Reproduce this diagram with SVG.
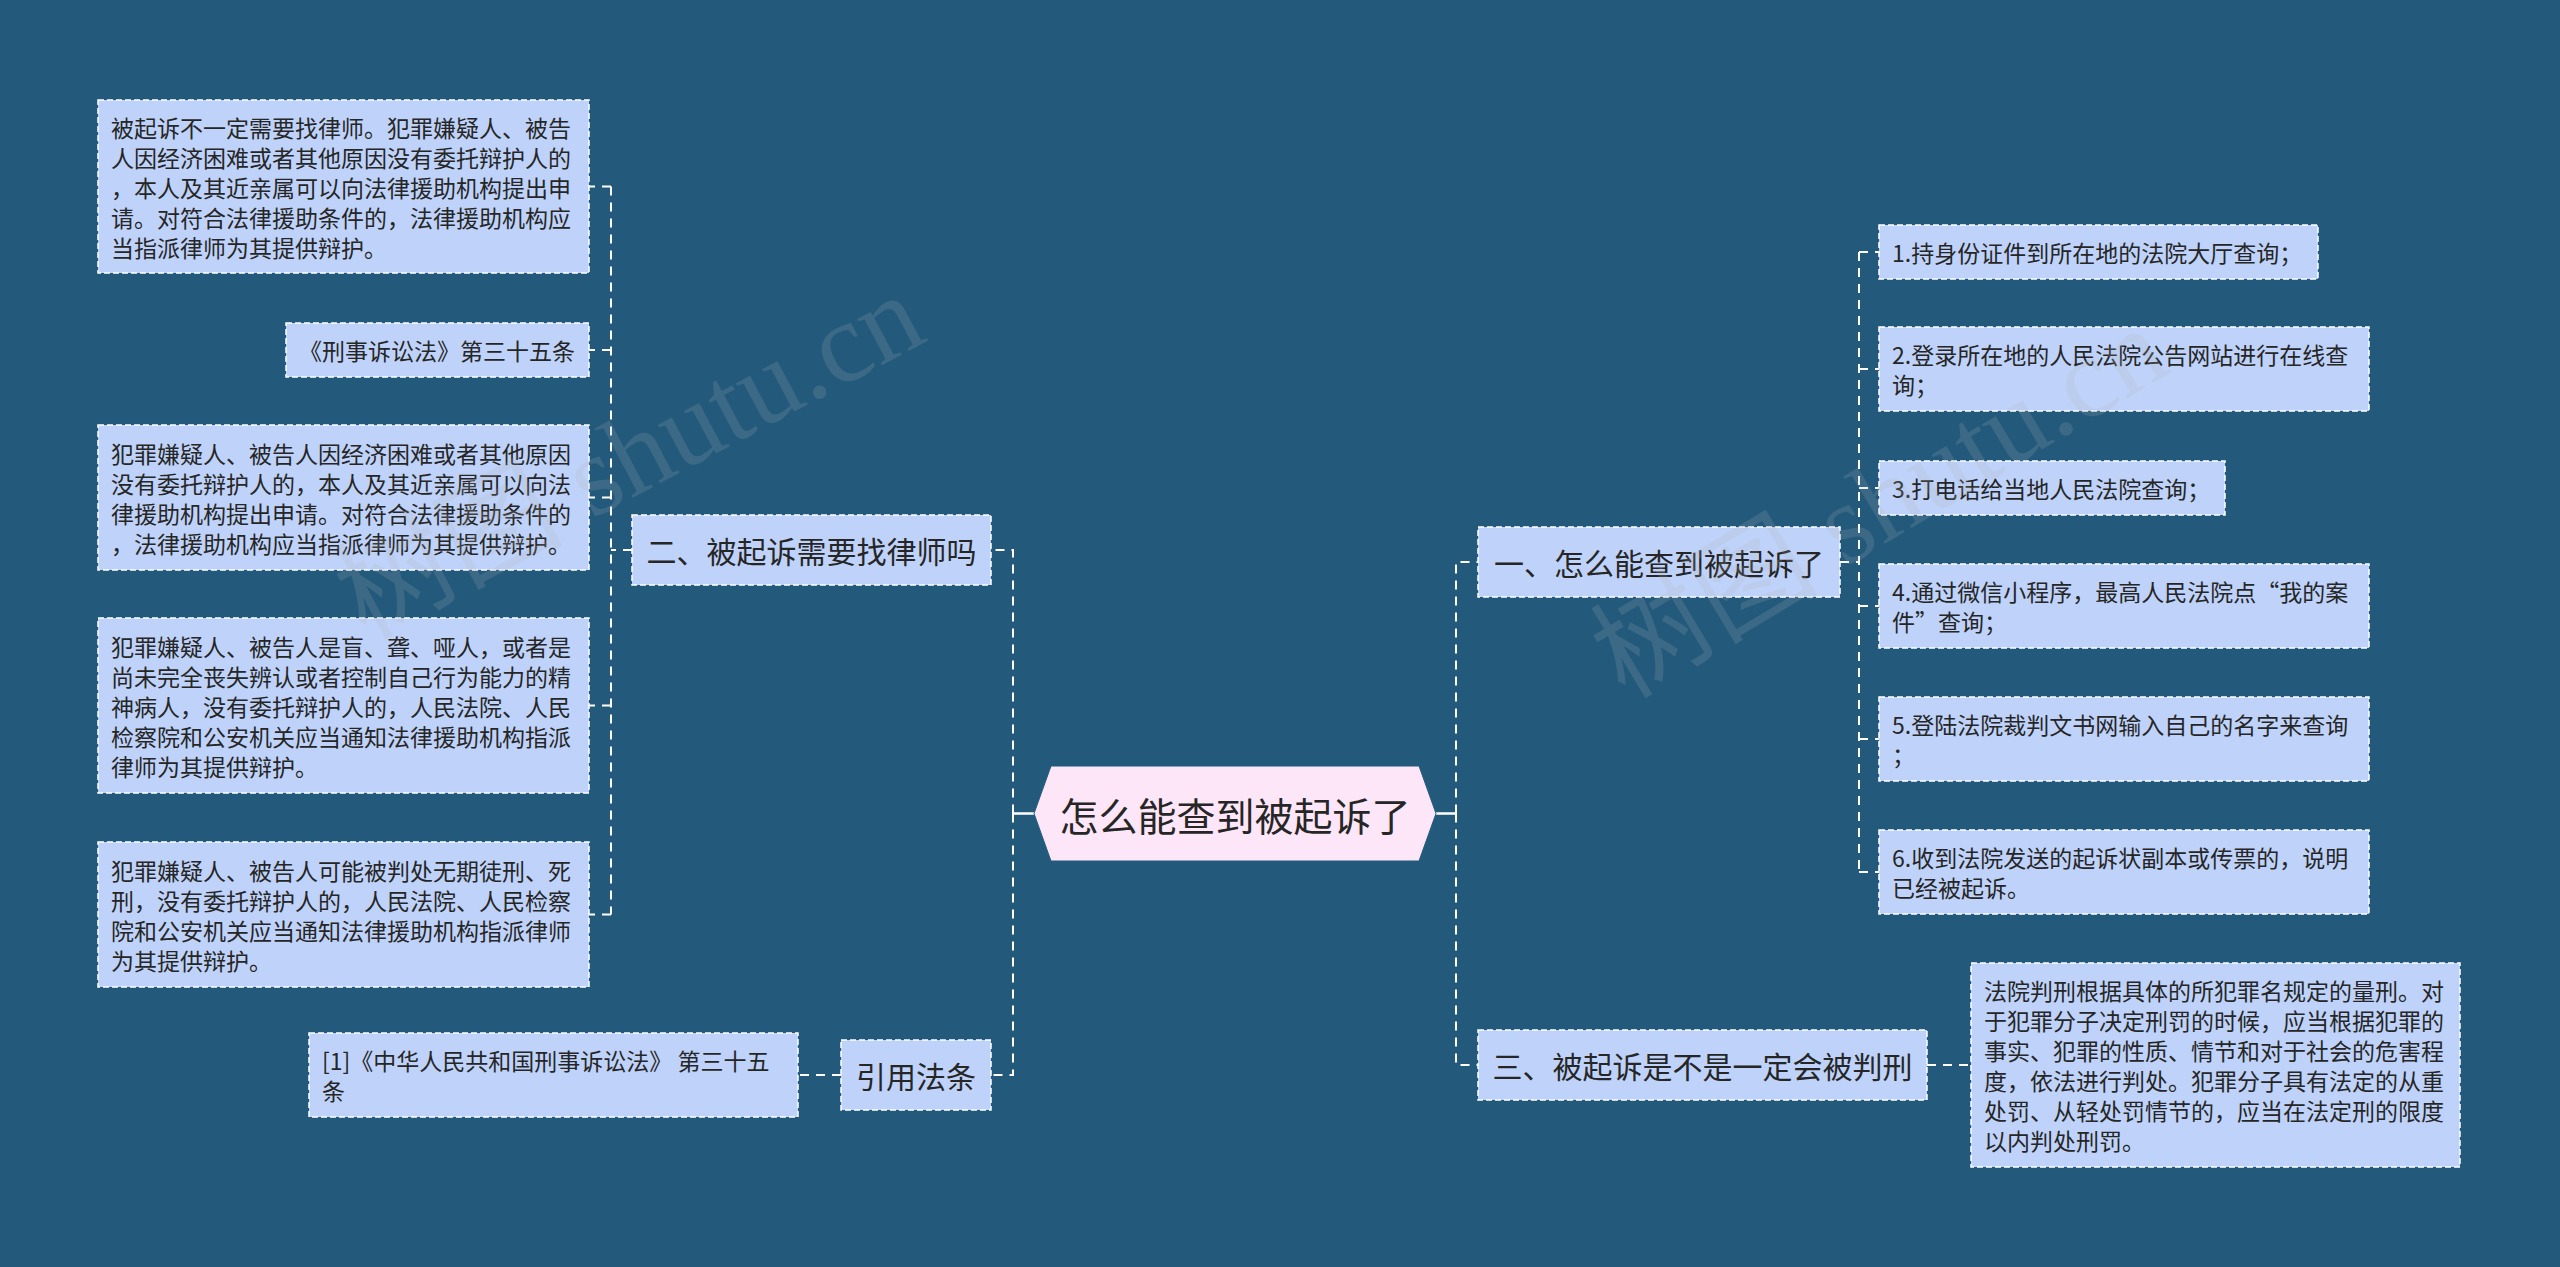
<svg xmlns="http://www.w3.org/2000/svg" width="2560" height="1267" viewBox="0 0 2560 1267">
<style>
.bg{fill:#235a7c}
.box{fill:#bfd3fa;stroke:#ffffff;stroke-width:1.5;stroke-dasharray:6 3}
.hex{fill:#fde6f7;stroke:#235a7c;stroke-width:1}
.t{font-family:"Noto Sans CJK SC","Noto Sans",sans-serif;fill:#262626;dominant-baseline:central}
.leaf{font-size:23px}
.branch{font-size:30px;text-anchor:middle}
.root{font-size:39px;text-anchor:middle}
.c{fill:none;stroke:#ffffff;stroke-width:2;stroke-dasharray:9 7}
.cs{fill:none;stroke:#ffffff;stroke-width:2.5}
.wm{font-family:"Liberation Serif","Noto Sans CJK SC",serif;font-size:114px;fill:#b0b0b0;opacity:0.18}
</style>
<rect class="bg" x="0" y="0" width="2560" height="1267"/>
<g id="connectors">
<path class="cs" d="M1034,813.5 H1013"/>
<path class="c" d="M1013,813.5 V550 H991 M1013,813.5 V1075 H991"/>
<path class="c" d="M632,550 H611 M611,186.5 V914.5 M611,186.5 H589 M611,350 H589 M611,497.5 H589 M611,705.5 H589 M611,914.5 H589"/>
<path class="c" d="M841,1075 H798"/>
<path class="cs" d="M1436,813.5 H1456"/>
<path class="c" d="M1456,813.5 V562 H1478 M1456,813.5 V1065 H1478"/>
<path class="c" d="M1840,562 H1859 M1859,252 V872 M1859,252 H1879 M1859,369 H1879 M1859,488 H1879 M1859,606 H1879 M1859,739 H1879 M1859,872 H1879"/>
<path class="c" d="M1927,1065 H1971"/>
</g>
<g id="root">
<polygon class="hex" points="1034,813.5 1051,766 1419,766 1436,813.5 1419,861 1051,861"/>
<text class="t root" x="1235" y="813.5">怎么能查到被起诉了</text>
</g>
<g id="branch-2">
<rect class="box" x="632" y="515" width="359" height="70"/>
<text class="t branch" x="811.5" y="550">二、被起诉需要找律师吗</text>
</g>
<g id="branch-cite">
<rect class="box" x="841" y="1040" width="150" height="70"/>
<text class="t branch" x="916" y="1075">引用法条</text>
</g>
<g id="branch-1">
<rect class="box" x="1478" y="527" width="362" height="70"/>
<text class="t branch" x="1659" y="562">一、怎么能查到被起诉了</text>
</g>
<g id="branch-3">
<rect class="box" x="1478" y="1030" width="449" height="70"/>
<text class="t branch" x="1702.5" y="1065">三、被起诉是不是一定会被判刑</text>
</g>
<g id="l1">
<rect class="box" x="98" y="100" width="491" height="173"/>
<text class="t leaf" x="111" y="126.5">被起诉不一定需要找律师。犯罪嫌疑人、被告</text>
<text class="t leaf" x="111" y="156.5">人因经济困难或者其他原因没有委托辩护人的</text>
<text class="t leaf" x="111" y="186.5">，本人及其近亲属可以向法律援助机构提出申</text>
<text class="t leaf" x="111" y="216.5">请。对符合法律援助条件的，法律援助机构应</text>
<text class="t leaf" x="111" y="246.5">当指派律师为其提供辩护。</text>
</g>
<g id="l2">
<rect class="box" x="286" y="323" width="303" height="54"/>
<text class="t leaf" x="299" y="350">《刑事诉讼法》第三十五条</text>
</g>
<g id="l3">
<rect class="box" x="98" y="425" width="491" height="145"/>
<text class="t leaf" x="111" y="452.5">犯罪嫌疑人、被告人因经济困难或者其他原因</text>
<text class="t leaf" x="111" y="482.5">没有委托辩护人的，本人及其近亲属可以向法</text>
<text class="t leaf" x="111" y="512.5">律援助机构提出申请。对符合法律援助条件的</text>
<text class="t leaf" x="111" y="542.5">，法律援助机构应当指派律师为其提供辩护。</text>
</g>
<g id="l4">
<rect class="box" x="98" y="618" width="491" height="175"/>
<text class="t leaf" x="111" y="645.5">犯罪嫌疑人、被告人是盲、聋、哑人，或者是</text>
<text class="t leaf" x="111" y="675.5">尚未完全丧失辨认或者控制自己行为能力的精</text>
<text class="t leaf" x="111" y="705.5">神病人，没有委托辩护人的，人民法院、人民</text>
<text class="t leaf" x="111" y="735.5">检察院和公安机关应当通知法律援助机构指派</text>
<text class="t leaf" x="111" y="765.5">律师为其提供辩护。</text>
</g>
<g id="l5">
<rect class="box" x="98" y="842" width="491" height="145"/>
<text class="t leaf" x="111" y="869.5">犯罪嫌疑人、被告人可能被判处无期徒刑、死</text>
<text class="t leaf" x="111" y="899.5">刑，没有委托辩护人的，人民法院、人民检察</text>
<text class="t leaf" x="111" y="929.5">院和公安机关应当通知法律援助机构指派律师</text>
<text class="t leaf" x="111" y="959.5">为其提供辩护。</text>
</g>
<g id="cite">
<rect class="box" x="309" y="1033" width="489" height="84"/>
<text class="t leaf" x="322" y="1060">[1]《中华人民共和国刑事诉讼法》 第三十五</text>
<text class="t leaf" x="322" y="1090">条</text>
</g>
<g id="r1">
<rect class="box" x="1879" y="225" width="439" height="54"/>
<text class="t leaf" x="1892" y="252">1.持身份证件到所在地的法院大厅查询；</text>
</g>
<g id="r2">
<rect class="box" x="1879" y="327" width="490" height="84"/>
<text class="t leaf" x="1892" y="354">2.登录所在地的人民法院公告网站进行在线查</text>
<text class="t leaf" x="1892" y="384">询；</text>
</g>
<g id="r3">
<rect class="box" x="1879" y="461" width="346" height="54"/>
<text class="t leaf" x="1892" y="488">3.打电话给当地人民法院查询；</text>
</g>
<g id="r4">
<rect class="box" x="1879" y="564" width="490" height="84"/>
<text class="t leaf" x="1892" y="591">4.通过微信小程序，最高人民法院点“我的案</text>
<text class="t leaf" x="1892" y="621">件”查询；</text>
</g>
<g id="r5">
<rect class="box" x="1879" y="697" width="490" height="84"/>
<text class="t leaf" x="1892" y="724">5.登陆法院裁判文书网输入自己的名字来查询</text>
<text class="t leaf" x="1892" y="754">；</text>
</g>
<g id="r6">
<rect class="box" x="1879" y="830" width="490" height="84"/>
<text class="t leaf" x="1892" y="857">6.收到法院发送的起诉状副本或传票的，说明</text>
<text class="t leaf" x="1892" y="887">已经被起诉。</text>
</g>
<g id="r7">
<rect class="box" x="1971" y="963" width="489" height="204"/>
<text class="t leaf" x="1984" y="990">法院判刑根据具体的所犯罪名规定的量刑。对</text>
<text class="t leaf" x="1984" y="1020">于犯罪分子决定刑罚的时候，应当根据犯罪的</text>
<text class="t leaf" x="1984" y="1050">事实、犯罪的性质、情节和对于社会的危害程</text>
<text class="t leaf" x="1984" y="1080">度，依法进行判处。犯罪分子具有法定的从重</text>
<text class="t leaf" x="1984" y="1110">处罚、从轻处罚情节的，应当在法定刑的限度</text>
<text class="t leaf" x="1984" y="1140">以内判处刑罚。</text>
</g>
<g id="watermarks">
<text class="wm" transform="translate(365,640) rotate(-28)">树图 shutu.cn</text>
<text class="wm" transform="translate(1625,700) rotate(-31)">树图 shutu.cn</text>
</g>
</svg>
